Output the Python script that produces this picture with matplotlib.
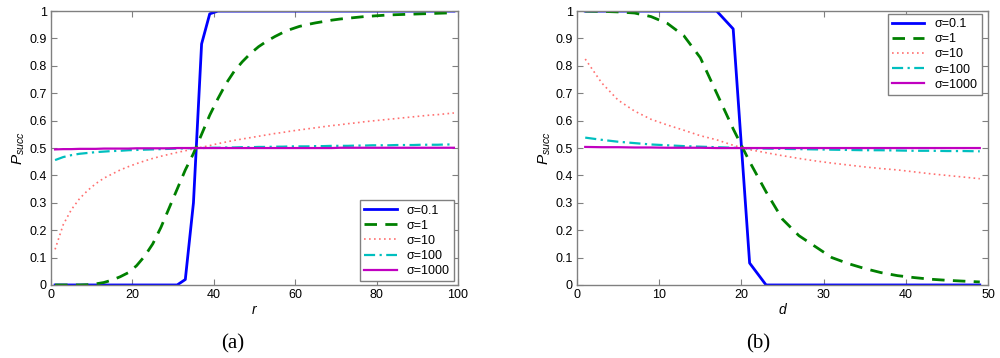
import matplotlib
matplotlib.use("Agg")
import matplotlib.pyplot as plt

# ---------------- data ----------------
r_vals = list(range(1, 100, 2))
d_vals = list(range(1, 50, 2))

left_s01 = [0]*16 + [0.02, 0.30, 0.88, 0.99] + [1.0]*30
left_s1 = [0, 0, 0, 0, 0.001, 0.004, 0.009, 0.018, 0.03, 0.045,
           0.07, 0.105, 0.15, 0.21, 0.28, 0.35, 0.42, 0.48, 0.55, 0.62,
           0.68, 0.735, 0.78, 0.815, 0.845, 0.87, 0.89, 0.907, 0.922, 0.934,
           0.944, 0.951, 0.957, 0.962, 0.967, 0.971, 0.974, 0.977, 0.98, 0.982,
           0.984, 0.986, 0.987, 0.988, 0.989, 0.99, 0.991, 0.992, 0.993, 0.994]
left_s10 = [0.13, 0.22, 0.275, 0.315, 0.345, 0.37, 0.39, 0.405, 0.42, 0.432,
            0.443, 0.453, 0.462, 0.47, 0.477, 0.484, 0.49, 0.497, 0.503, 0.509,
            0.516, 0.522, 0.528, 0.533, 0.538, 0.543, 0.548, 0.553, 0.557, 0.562,
            0.566, 0.57, 0.574, 0.578, 0.582, 0.585, 0.589, 0.592, 0.596, 0.599,
            0.602, 0.605, 0.608, 0.611, 0.614, 0.617, 0.62, 0.622, 0.625, 0.628]
left_s100 = [0.456, 0.467, 0.474, 0.479, 0.482, 0.485, 0.487, 0.489, 0.49, 0.492,
             0.493, 0.494, 0.495, 0.496, 0.497, 0.498, 0.499, 0.5, 0.5, 0.501,
             0.501, 0.502, 0.502, 0.503, 0.503, 0.504, 0.504, 0.505, 0.505, 0.506,
             0.506, 0.506, 0.507, 0.507, 0.508, 0.508, 0.508, 0.509, 0.509, 0.51,
             0.51, 0.51, 0.511, 0.511, 0.511, 0.512, 0.512, 0.512, 0.513, 0.513]
left_s1000 = [0.495, 0.496, 0.496, 0.497, 0.497, 0.497, 0.498, 0.498, 0.498, 0.498,
              0.499, 0.499, 0.499, 0.499, 0.499, 0.5, 0.5, 0.5, 0.5, 0.5,
              0.5, 0.5, 0.5, 0.5, 0.5, 0.5, 0.5, 0.5, 0.5, 0.5,
              0.5, 0.5, 0.5, 0.5, 0.5, 0.501, 0.501, 0.501, 0.501, 0.501,
              0.501, 0.501, 0.501, 0.501, 0.501, 0.501, 0.501, 0.501, 0.501, 0.501]

right_s01 = [1.0]*9 + [0.935, 0.08] + [0.0]*14
right_s1 = [1.0, 0.999, 0.997, 0.993, 0.98, 0.955, 0.91, 0.83, 0.70, 0.57,
            0.45, 0.34, 0.24, 0.18, 0.14, 0.10, 0.078, 0.06, 0.045, 0.034,
            0.027, 0.021, 0.017, 0.014, 0.011]
right_s10 = [0.825, 0.738, 0.675, 0.635, 0.605, 0.584, 0.565, 0.545, 0.53, 0.51,
             0.494, 0.483, 0.472, 0.462, 0.453, 0.445, 0.438, 0.431, 0.425, 0.42,
             0.413, 0.406, 0.4, 0.394, 0.388]
right_s100 = [0.538, 0.53, 0.523, 0.518, 0.513, 0.51, 0.507, 0.505, 0.503, 0.501,
              0.499, 0.498, 0.497, 0.496, 0.495, 0.494, 0.493, 0.492, 0.492, 0.491,
              0.49, 0.49, 0.489, 0.489, 0.488]
right_s1000 = [0.504, 0.503, 0.503, 0.502, 0.502, 0.501, 0.501, 0.501, 0.5, 0.5,
               0.5, 0.5, 0.5, 0.5, 0.5, 0.5, 0.5, 0.5, 0.5, 0.5,
               0.5, 0.5, 0.5, 0.5, 0.5]

legend_labels = ["σ=0.1", "σ=1", "σ=10", "σ=100", "σ=1000"]
y_ticks = [0, 0.1, 0.2, 0.3, 0.4, 0.5, 0.6, 0.7, 0.8, 0.9, 1]
y_ticklabels = ["0", "0.1", "0.2", "0.3", "0.4", "0.5", "0.6", "0.7", "0.8", "0.9", "1"]
left_xticks = [0, 20, 40, 60, 80, 100]
right_xticks = [0, 10, 20, 30, 40, 50]

# ---------------- style ----------------
styles = [
    dict(color="#0000ff", linestyle="-", linewidth=2.0),
    dict(color="#008000", linestyle=(0, (4.5, 3)), linewidth=2.0),
    dict(color="#ff7070", linestyle=(0, (1, 2)), linewidth=1.2),
    dict(color="#00bfbf", linestyle=(0, (5, 2, 1, 2)), linewidth=1.6),
    dict(color="#c000c0", linestyle="-", linewidth=1.6),
]

plt.rcParams["font.family"] = ["Liberation Sans", "DejaVu Sans"]
plt.rcParams["mathtext.fontset"] = "custom"
plt.rcParams["mathtext.it"] = "Liberation Sans:italic"
plt.rcParams["mathtext.rm"] = "Liberation Sans"
fig = plt.figure(figsize=(10, 3.58), dpi=100)
axL = fig.add_axes([0.051, 0.204, 0.407, 0.765])
axR = fig.add_axes([0.577, 0.204, 0.411, 0.765])

spine_col = "#808080"

def setup(ax, x, series, xlim, xticks, xlabel, legloc, bbox, caption, capx):
    for s, st, lab in zip(series, styles, legend_labels):
        ax.plot(x, s, label=lab, **st)
    ax.set_xlim(*xlim)
    ax.set_ylim(0, 1)
    ax.set_xticks(xticks)
    ax.set_xticklabels([str(t) for t in xticks])
    ax.set_yticks(y_ticks)
    ax.set_yticklabels(y_ticklabels)
    ax.tick_params(direction="in", top=True, right=True, length=4, width=0.8,
                   colors=spine_col, labelcolor="black", labelsize=9, pad=3)
    for sp in ax.spines.values():
        sp.set_color(spine_col)
        sp.set_linewidth(1.0)
    ax.set_xlabel(xlabel, fontsize=10, style="italic", labelpad=1)
    ax.set_ylabel(r"$P_{succ}$", fontsize=11, labelpad=2)
    leg = ax.legend(loc=legloc, bbox_to_anchor=bbox, fontsize=9, fancybox=False,
                    framealpha=1, edgecolor=spine_col, handlelength=2.6,
                    handletextpad=0.8, labelspacing=0.25, borderpad=0.35,
                    borderaxespad=0)
    leg.get_frame().set_linewidth(1.0)
    fig.text(capx, 0.039, caption, fontsize=15, family="Liberation Serif",
             ha="center", va="center")

setup(axL, r_vals, [left_s01, left_s1, left_s10, left_s100, left_s1000],
      (0, 100), left_xticks, "r", "lower right", (0.99, 0.013), "(a)", 0.233)
setup(axR, d_vals, [right_s01, right_s1, right_s10, right_s100, right_s1000],
      (0, 50), right_xticks, "d", "upper right", (0.985, 0.99), "(b)", 0.758)

fig.savefig("out.png", dpi=100)
